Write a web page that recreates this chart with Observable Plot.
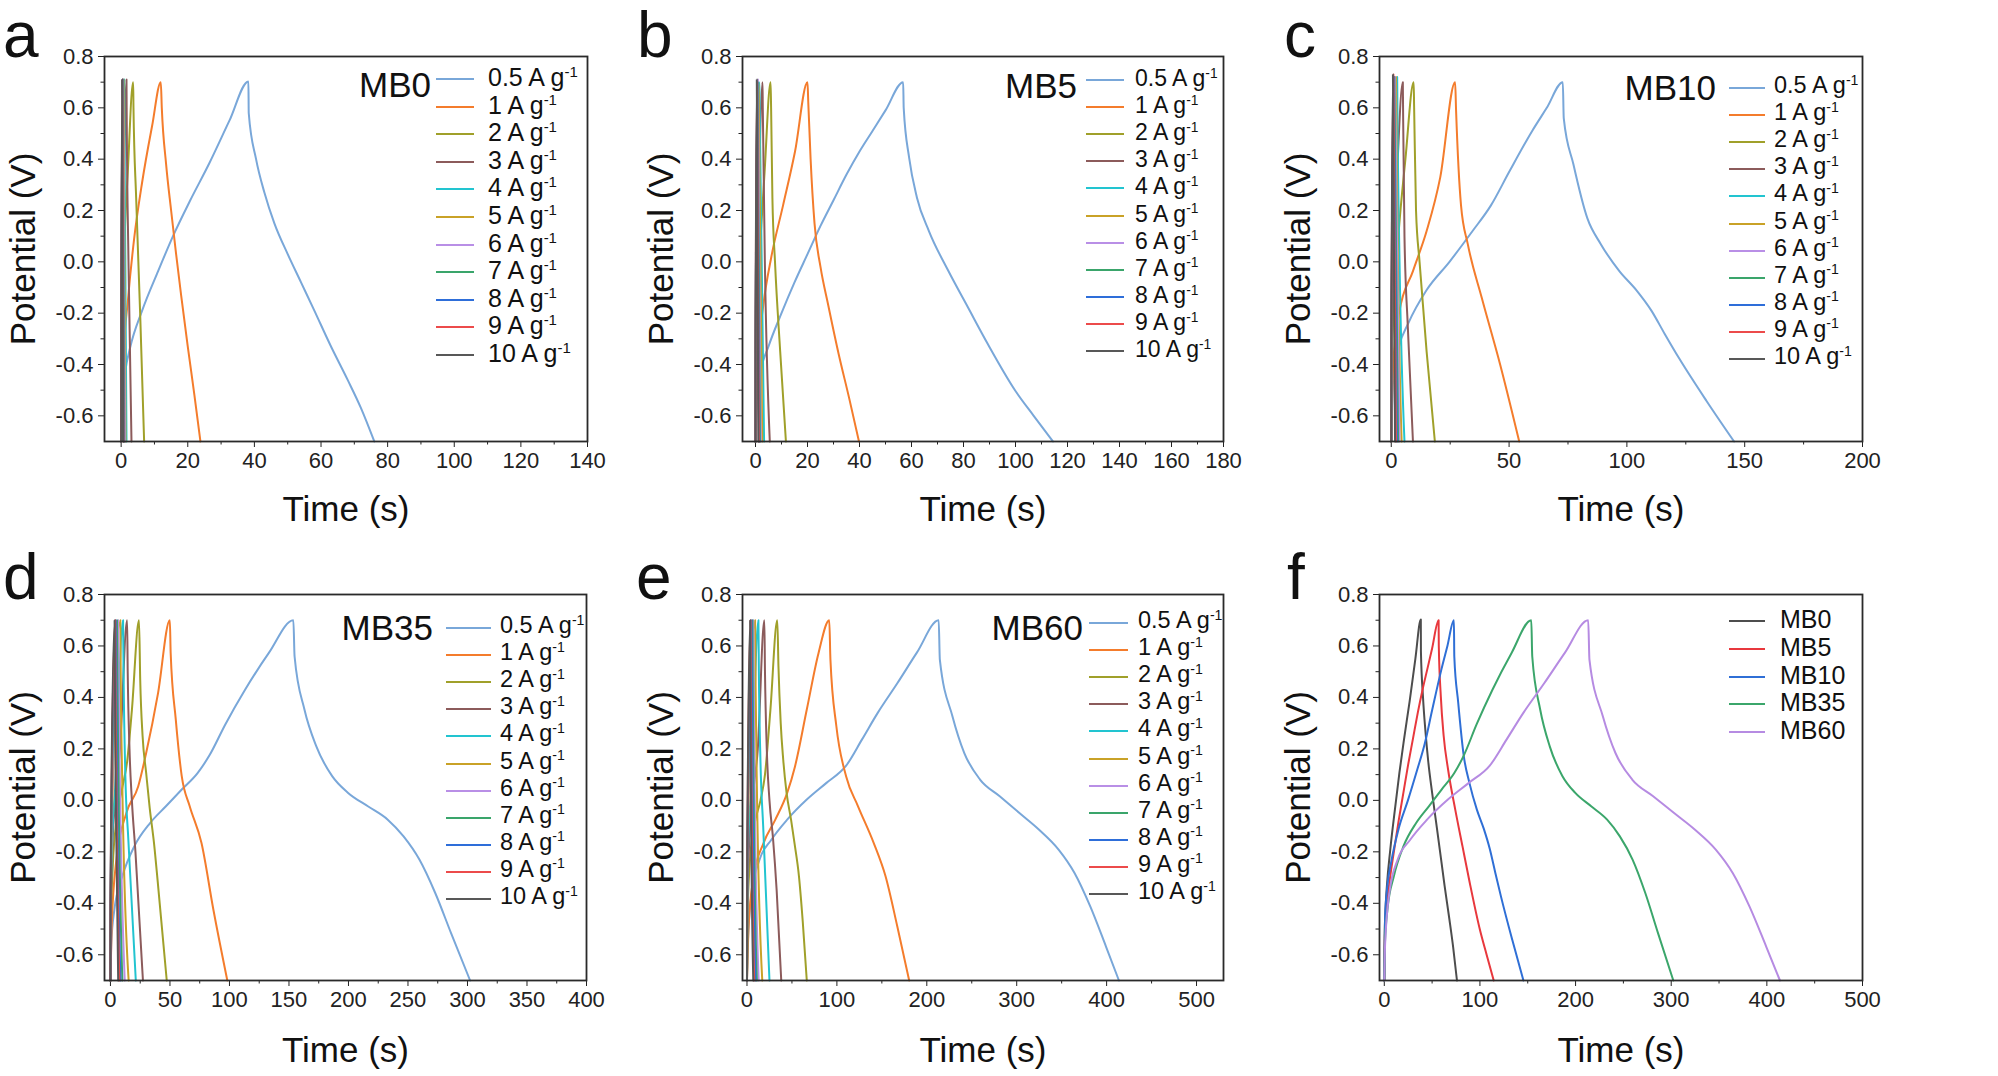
<!DOCTYPE html>
<html>
<head>
<meta charset="utf-8">
<script src="https://cdn.jsdelivr.net/npm/d3@7"></script>
<script src="https://cdn.jsdelivr.net/npm/@observablehq/plot@0.6"></script>
<style>
  body { margin: 0; background: #fff; }
  #fig { position: relative; width: 1998px; height: 1076px; overflow: hidden;
         font-family: "Liberation Sans", Arial, sans-serif; color: #111; }
  .panel { position: absolute; }
  .abs { position: absolute; white-space: nowrap; line-height: 1; }
  .letter { font-size: 64px; }
  .ttl { font-size: 35px; transform: translateY(-50%); }
  .leg { transform: translateY(-50%); }
  .leg sup { font-size: 0.6em; vertical-align: baseline; position: relative; top: -0.6em; }
  .swatch { position: absolute; height: 2px; }
</style>
</head>
<body>
<div id="fig"></div>
<script>
// Galvanostatic charge–discharge curves, potential (V) vs time (s)
const rates = ["0.5", "1", "2", "3", "4", "5", "6", "7", "8", "9", "10"];
const rateColors = ["#79a7d9", "#f47c2c", "#a0a02a", "#8c5b5b", "#22c4d0", "#c9a227",
                    "#b98fe6", "#3aa56b", "#2e6ed9", "#ec4b4b", "#585858"];
const samples = ["MB0", "MB5", "MB10", "MB35", "MB60"];
const sampleColors = ["#4d4d4d", "#e8383d", "#2f6fd6", "#3ba66b", "#b68be2"];

// [time, potential] pairs, one list per current density (0.5 … 10 A g-1)
const MB0 = [
  [[0,-0.7],[0.36,-0.53],[1.2,-0.43],[2.7,-0.334],[6.3,-0.19],[11.1,-0.036],[15.8,0.107],[20.6,0.236],[26.5,0.385],[32.5,0.55],[38.2,0.703],
   [38.3,0.58],[40.5,0.40],[43,0.27],[46,0.15],[50,0.03],[54,-0.08],[58,-0.19],[63,-0.33],[68,-0.46],[72,-0.57],[76,-0.7]],
  [[0,-0.7],[0.6,-0.4],[2.1,-0.14],[3.9,0.09],[6.3,0.31],[9.3,0.53],[11.9,0.70],
   [12.2,0.6],[13.5,0.38],[15,0.2],[16.5,0.03],[18,-0.13],[20,-0.33],[22,-0.52],[23.8,-0.7]],
  [[0,-0.7],[0.2,-0.35],[0.8,0.0],[2.0,0.35],[3.6,0.70],[3.7,0.6],[4.5,0.25],[5.7,-0.2],[6.9,-0.7]],
  [[0,-0.7],[0.1,-0.3],[0.6,0.1],[1.6,0.71],[1.65,0.6],[2.2,0.0],[3.1,-0.7]],
  [[0,-0.7],[0.08,-0.3],[0.9,0.71],[0.95,0.6],[1.6,-0.7]],
  [[0,-0.7],[0.06,-0.3],[0.7,0.71],[0.75,0.6],[1.3,-0.7]],
  [[0,-0.7],[0.05,-0.3],[0.55,0.71],[0.6,0.6],[1.1,-0.7]],
  [[0,-0.7],[0.05,-0.3],[0.45,0.71],[0.5,0.6],[0.9,-0.7]],
  [[0,-0.7],[0.04,-0.3],[0.4,0.71],[0.45,0.6],[0.8,-0.7]],
  [[0,-0.7],[0.04,-0.3],[0.35,0.71],[0.4,0.6],[0.7,-0.7]],
  [[0,-0.7],[0.03,-0.3],[0.3,0.71],[0.33,0.6],[0.6,-0.7]]
];

const MB5 = [
  [[0,-0.7],[0.5,-0.55],[2,-0.43],[5,-0.33],[10,-0.2],[15,-0.08],[20,0.03],[25,0.14],[30,0.24],[35,0.34],[40,0.43],[45,0.51],[50,0.59],[56.8,0.70],
   [57,0.6],[59.1,0.405],[62.1,0.25],[66.7,0.12],[74.2,-0.036],[81.8,-0.179],[89.4,-0.321],[100,-0.503],[107,-0.6],[114.4,-0.7]],
  [[0,-0.7],[0.8,-0.4],[3,-0.17],[6.1,0.02],[10.6,0.22],[15.2,0.43],[20,0.70],
   [20.3,0.62],[21.2,0.4],[22.7,0.15],[25,-0.02],[28,-0.17],[32,-0.36],[36,-0.53],[39.8,-0.7]],
  [[0,-0.7],[0.2,-0.4],[0.8,-0.15],[2,0.1],[3.5,0.35],[5.8,0.70],[6,0.6],[6.5,0.25],[7.5,0.0],[9.5,-0.35],[11.7,-0.7]],
  [[0,-0.7],[0.1,-0.35],[0.8,0.0],[2.7,0.70],[2.8,0.6],[3.6,0.0],[5.5,-0.7]],
  [[0,-0.7],[0.08,-0.3],[1.5,0.70],[1.6,0.6],[3.3,-0.7]],
  [[0,-0.7],[0.07,-0.3],[1.2,0.70],[1.3,0.6],[2.6,-0.7]],
  [[0,-0.7],[0.06,-0.3],[0.9,0.71],[1.0,0.6],[2.0,-0.7]],
  [[0,-0.7],[0.05,-0.3],[0.8,0.70],[0.85,0.6],[1.7,-0.7]],
  [[0,-0.7],[0.05,-0.3],[0.7,0.70],[0.75,0.6],[1.5,-0.7]],
  [[0,-0.7],[0.04,-0.3],[0.6,0.70],[0.65,0.6],[1.3,-0.7]],
  [[0,-0.7],[0.04,-0.3],[0.5,0.71],[0.55,0.6],[1.1,-0.7]]
];

const MB10 = [
  [[0,-0.7],[0.8,-0.46],[3.3,-0.33],[7.2,-0.24],[15,-0.11],[24.7,0.0],[34.5,0.12],[42.3,0.22],[50,0.35],[59.8,0.51],[66,0.6],[72.8,0.70],
   [73.2,0.56],[77.3,0.38],[83.2,0.17],[89,0.068],[96.8,-0.036],[104,-0.11],[110.4,-0.19],[116,-0.28],[122.1,-0.375],[133.8,-0.542],[145.5,-0.7]],
  [[0,-0.7],[0.8,-0.4],[3.3,-0.2],[9.2,-0.036],[15,0.12],[20.8,0.33],[27.1,0.70],
   [27.5,0.59],[29.6,0.22],[32.5,0.068],[38.4,-0.14],[46.2,-0.40],[54.3,-0.7]],
  [[0,-0.7],[0.3,-0.4],[1.2,-0.15],[3,0.1],[6,0.4],[9.5,0.70],[9.7,0.6],[10.5,0.2],[12,0.0],[15,-0.35],[18.5,-0.7]],
  [[0,-0.7],[0.15,-0.35],[1,0.0],[2.5,0.35],[4.9,0.70],[5.0,0.6],[5.6,0.1],[7,-0.25],[9.2,-0.7]],
  [[0,-0.7],[0.1,-0.3],[0.6,0.1],[2.5,0.72],[2.6,0.6],[3.5,0.0],[5.6,-0.7]],
  [[0,-0.7],[0.08,-0.3],[0.5,0.1],[2.0,0.72],[2.1,0.6],[4.4,-0.7]],
  [[0,-0.7],[0.07,-0.3],[1.6,0.72],[1.7,0.6],[3.5,-0.7]],
  [[0,-0.7],[0.06,-0.3],[1.3,0.72],[1.4,0.6],[2.9,-0.7]],
  [[0,-0.7],[0.05,-0.3],[1.1,0.72],[1.2,0.6],[2.4,-0.7]],
  [[0,-0.7],[0.05,-0.3],[0.9,0.73],[1.0,0.6],[2.0,-0.7]],
  [[0,-0.7],[0.04,-0.3],[0.7,0.73],[0.8,0.6],[1.6,-0.7]]
];

const MB35 = [
  [[0,-0.7],[0.7,-0.555],[3.3,-0.425],[10,-0.295],[20,-0.179],[33.3,-0.088],[46.6,-0.023],[59.9,0.042],[73.2,0.106],[83.2,0.175],[96.5,0.295],[113.1,0.43],[133.1,0.573],[153.7,0.70],
   [154.7,0.56],[163,0.353],[173,0.21],[186.3,0.094],[199.7,0.029],[216.3,-0.023],[233,-0.075],[246.3,-0.14],[259.6,-0.23],[272.9,-0.36],[286.2,-0.516],[302.2,-0.70]],
  [[0,-0.7],[1,-0.49],[5,-0.23],[13.3,-0.05],[23.3,0.054],[30,0.184],[40,0.417],[49.9,0.70],
   [50.6,0.573],[54.9,0.314],[59.9,0.094],[66.6,-0.023],[76.5,-0.166],[86.5,-0.425],[98.2,-0.70]],
  [[0,-0.7],[0.5,-0.45],[2,-0.25],[5,-0.08],[10,0.05],[14,0.15],[18,0.35],[24,0.70],
   [25,0.47],[27,0.25],[30,0.107],[33,-0.03],[36.6,-0.166],[40,-0.33],[47.3,-0.7]],
  [[0,-0.7],[0.3,-0.45],[1.5,-0.2],[4,0.0],[8,0.2],[14,0.70],[14.5,0.5],[16,0.2],[18,0.0],[21,-0.2],[27.3,-0.7]],
  [[0,-0.7],[0.3,-0.4],[1.5,-0.15],[4,0.05],[10.6,0.70],[11,0.5],[12.5,0.1],[15,-0.15],[21.3,-0.7]],
  [[0,-0.7],[0.2,-0.4],[1.2,-0.1],[8.3,0.70],[8.6,0.5],[10,0.05],[15.3,-0.7]],
  [[0,-0.7],[0.2,-0.4],[1,-0.1],[6.5,0.70],[6.8,0.5],[8,0.05],[12,-0.7]],
  [[0,-0.7],[0.15,-0.4],[0.8,-0.1],[5.5,0.70],[5.8,0.5],[6.8,0.05],[10,-0.7]],
  [[0,-0.7],[0.12,-0.4],[0.7,-0.1],[4.5,0.70],[4.8,0.5],[5.6,0.05],[8.5,-0.7]],
  [[0,-0.7],[0.1,-0.4],[0.6,-0.1],[4,0.70],[4.2,0.5],[5,0.05],[7.5,-0.7]],
  [[0,-0.7],[0.1,-0.4],[0.5,-0.1],[3.5,0.70],[3.7,0.5],[4.4,0.05],[6.5,-0.7]]
];

const MB60 = [
  [[0,-0.7],[0.9,-0.555],[5.3,-0.36],[14,-0.23],[27.1,-0.153],[44.7,-0.075],[66.5,0.003],[88.4,0.068],[110.3,0.135],[127.8,0.236],[145.4,0.34],[167.2,0.455],[189.1,0.575],[213.2,0.70],
   [214.5,0.547],[228.5,0.327],[241.7,0.184],[259.2,0.081],[281.1,0.016],[303,-0.049],[324.9,-0.114],[346.8,-0.192],[364.3,-0.282],[381.8,-0.412],[399.3,-0.568],[413.7,-0.70]],
  [[0,-0.7],[1.8,-0.49],[7.4,-0.295],[18.4,-0.166],[31.5,-0.075],[44.7,0.029],[53.4,0.132],[66.5,0.353],[79.6,0.573],[91.5,0.70],
   [92.8,0.547],[99.4,0.288],[110.3,0.093],[123.5,-0.023],[141,-0.166],[154.1,-0.295],[167.2,-0.49],[180.4,-0.7]],
  [[0,-0.7],[0.6,-0.45],[3,-0.25],[8,-0.1],[15,0.0],[20,0.1],[26,0.35],[33.7,0.70],
   [35,0.52],[37.5,0.3],[40.3,0.158],[44,0.03],[49,-0.075],[53,-0.17],[57.8,-0.295],[62,-0.47],[66.5,-0.7]],
  [[0,-0.7],[0.4,-0.4],[2,-0.2],[6,0.0],[12,0.2],[19.3,0.70],[20,0.5],[22,0.2],[25,0.0],[29,-0.15],[33,-0.35],[38.1,-0.7]],
  [[0,-0.7],[0.3,-0.4],[1.5,-0.15],[5,0.05],[12.7,0.70],[13.2,0.5],[15,0.15],[18,-0.1],[25,-0.7]],
  [[0,-0.7],[0.2,-0.4],[1.2,-0.1],[9,0.70],[9.4,0.5],[11,0.05],[17,-0.7]],
  [[0,-0.7],[0.2,-0.4],[1,-0.1],[7,0.70],[7.3,0.5],[8.5,0.05],[13,-0.7]],
  [[0,-0.7],[0.15,-0.4],[0.9,-0.1],[6,0.70],[6.3,0.5],[7.3,0.05],[11,-0.7]],
  [[0,-0.7],[0.12,-0.4],[0.8,-0.1],[5,0.70],[5.3,0.5],[6.2,0.05],[9.5,-0.7]],
  [[0,-0.7],[0.1,-0.4],[0.6,-0.1],[4,0.70],[4.2,0.5],[5,0.05],[8,-0.7]],
  [[0,-0.7],[0.1,-0.4],[0.5,-0.1],[3.5,0.70],[3.7,0.5],[4.4,0.05],[7,-0.7]]
];

// axis ticks
const yMajor = [-0.6, -0.4, -0.2, 0, 0.2, 0.4, 0.6, 0.8];
const yMinor = [-0.5, -0.3, -0.1, 0.1, 0.3, 0.5, 0.7];
const xMajorA = [0, 20, 40, 60, 80, 100, 120, 140];
const xMinorA = [10, 30, 50, 70, 90, 110, 130];
const xMajorB = [0, 20, 40, 60, 80, 100, 120, 140, 160, 180];
const xMinorB = [10, 30, 50, 70, 90, 110, 130, 150, 170];
const xMajorC = [0, 50, 100, 150, 200];
const xMinorC = [25, 75, 125, 175];
const xMajorD = [0, 50, 100, 150, 200, 250, 300, 350, 400];
const xMinorD = [25, 75, 125, 175, 225, 275, 325, 375];
const xMajorE = [0, 100, 200, 300, 400, 500];
const xMinorE = [50, 150, 250, 350, 450];

const font = '"Liberation Sans", Arial, sans-serif';
const fig = document.getElementById("fig");

function toRows(curves, names) {
  const rows = [];
  curves.forEach((pts, i) => pts.forEach(([t, v]) => rows.push({t, v, series: names[i]})));
  return rows;
}

function panel(cfg) {
  const rows = toRows(cfg.curves, cfg.names);
  const svg = Plot.plot({
    width: cfg.w, height: cfg.h,
    marginLeft: cfg.ml, marginRight: cfg.mr, marginTop: cfg.mt, marginBottom: cfg.mb,
    x: {domain: cfg.xDomain, label: null},
    y: {domain: [-0.7, 0.8], label: null},
    color: {domain: cfg.names, range: cfg.colors},
    style: {fontFamily: font, fontSize: "22px", color: "#222", background: "transparent", overflow: "visible", maxWidth: "none"},
    marks: [
      Plot.axisX({ticks: cfg.xMajor, tickSize: 6, tickPadding: 5, tickFormat: d => String(d), label: null, fontSize: 22}),
      Plot.axisX({ticks: cfg.xMinor, tickSize: 3.5, tickFormat: () => "", label: null}),
      Plot.axisY({ticks: yMajor, tickSize: 6, tickPadding: 5, tickFormat: d => d.toFixed(1), label: null, fontSize: 22}),
      Plot.axisY({ticks: yMinor, tickSize: 3.5, tickFormat: () => "", label: null}),
      Plot.line(rows, {x: "t", y: "v", z: "series", stroke: "series", strokeWidth: 2, curve: "monotone-x"}),
      Plot.frame({stroke: "#2a2a2a", strokeWidth: 1.8}),
      Plot.text(["Time (s)"], {frameAnchor: "bottom", dy: cfg.xLabelDy, fontSize: 35, fill: "#111", textAnchor: "middle"}),
      Plot.text(["Potential (V)"], {frameAnchor: "left", dx: -81, rotate: -90, fontSize: 35, fill: "#111", textAnchor: "middle"})
    ]
  });
  const div = document.createElement("div");
  div.className = "panel";
  div.style.left = cfg.x + "px";
  div.style.top = cfg.y + "px";
  div.style.width = cfg.w + "px";
  div.style.height = cfg.h + "px";
  div.appendChild(svg);
  fig.appendChild(div);

  // panel letter
  const L = document.createElement("div");
  L.className = "abs letter";
  L.textContent = cfg.letter;
  L.style.left = cfg.letterX + "px";
  L.style.top = (cfg.letterBase - 54) + "px";
  fig.appendChild(L);

  // sample name
  if (cfg.title) {
    const T = document.createElement("div");
    T.className = "abs ttl";
    T.textContent = cfg.title;
    T.style.right = (1998 - cfg.leg.titleRight) + "px";
    T.style.top = cfg.leg.titleY + "px";
    fig.appendChild(T);
  }

  // legend
  cfg.names.forEach((n, i) => {
    const yc = cfg.leg.y0 + i * cfg.leg.dy;
    const s = document.createElement("div");
    s.className = "swatch";
    s.style.left = cfg.leg.x1 + "px";
    s.style.width = (cfg.leg.x2 - cfg.leg.x1) + "px";
    s.style.top = (yc - 1) + "px";
    s.style.background = cfg.colors[i];
    fig.appendChild(s);
    const t = document.createElement("div");
    t.className = "abs leg";
    t.style.fontSize = cfg.leg.fs + "px";
    t.style.left = cfg.leg.tx + "px";
    t.style.top = (yc - 2) + "px";
    if (cfg.units) t.innerHTML = `${n} A g<sup>-1</sup>`;
    else t.textContent = n;
    fig.appendChild(t);
  });
}

const row1 = {y: 0, h: 540, mt: 56, mb: 99, xLabelDy: 79};
const row2 = {y: 540, h: 536, mt: 54, mb: 96, xLabelDy: 81};

panel({...row1, x: 0, w: 640, ml: 104, mr: 53, letter: "a", letterX: 3, letterBase: 57,
  title: "MB0", curves: MB0, names: rates, colors: rateColors, units: true,
  xDomain: [-5, 140], xMajor: xMajorA, xMinor: xMinorA,
  leg: {titleRight: 431, titleY: 84, x1: 436, x2: 474, tx: 488, y0: 79, dy: 27.6, fs: 25}});

panel({...row1, x: 640, w: 640, ml: 102, mr: 57, letter: "b", letterX: 637, letterBase: 57,
  title: "MB5", curves: MB5, names: rates, colors: rateColors, units: true,
  xDomain: [-5, 180], xMajor: xMajorB, xMinor: xMinorB,
  leg: {titleRight: 1077, titleY: 85, x1: 1086, x2: 1124, tx: 1135, y0: 80, dy: 27.1, fs: 23}});

panel({...row1, x: 1280, w: 718, ml: 99, mr: 136, letter: "c", letterX: 1284, letterBase: 57,
  title: "MB10", curves: MB10, names: rates, colors: rateColors, units: true,
  xDomain: [-5, 200], xMajor: xMajorC, xMinor: xMinorC,
  leg: {titleRight: 1716, titleY: 87, x1: 1729, x2: 1765, tx: 1774, y0: 88, dy: 27.1, fs: 23.5}});

panel({...row2, x: 0, w: 640, ml: 104, mr: 54, letter: "d", letterX: 3, letterBase: 599,
  title: "MB35", curves: MB35, names: rates, colors: rateColors, units: true,
  xDomain: [-5, 400], xMajor: xMajorD, xMinor: xMinorD,
  leg: {titleRight: 433, titleY: 627, x1: 446, x2: 491, tx: 500, y0: 628, dy: 27.1, fs: 23.5}});

panel({...row2, x: 640, w: 640, ml: 102, mr: 57, letter: "e", letterX: 636, letterBase: 599,
  title: "MB60", curves: MB60, names: rates, colors: rateColors, units: true,
  xDomain: [-5, 530], xMajor: xMajorE, xMinor: xMinorE,
  leg: {titleRight: 1083, titleY: 627, x1: 1089, x2: 1128, tx: 1138, y0: 623, dy: 27.1, fs: 23.5}});

// comparison of the 0.5 A g-1 curves
panel({...row2, x: 1280, w: 718, ml: 99, mr: 136, letter: "f", letterX: 1287, letterBase: 599,
  title: null, curves: [MB0[0], MB5[0], MB10[0], MB35[0], MB60[0]], names: samples, colors: sampleColors, units: false,
  xDomain: [-5, 500], xMajor: xMajorE, xMinor: xMinorE,
  leg: {x1: 1729, x2: 1765, tx: 1780, y0: 621, dy: 27.8, fs: 25}});
</script>
</body>
</html>
